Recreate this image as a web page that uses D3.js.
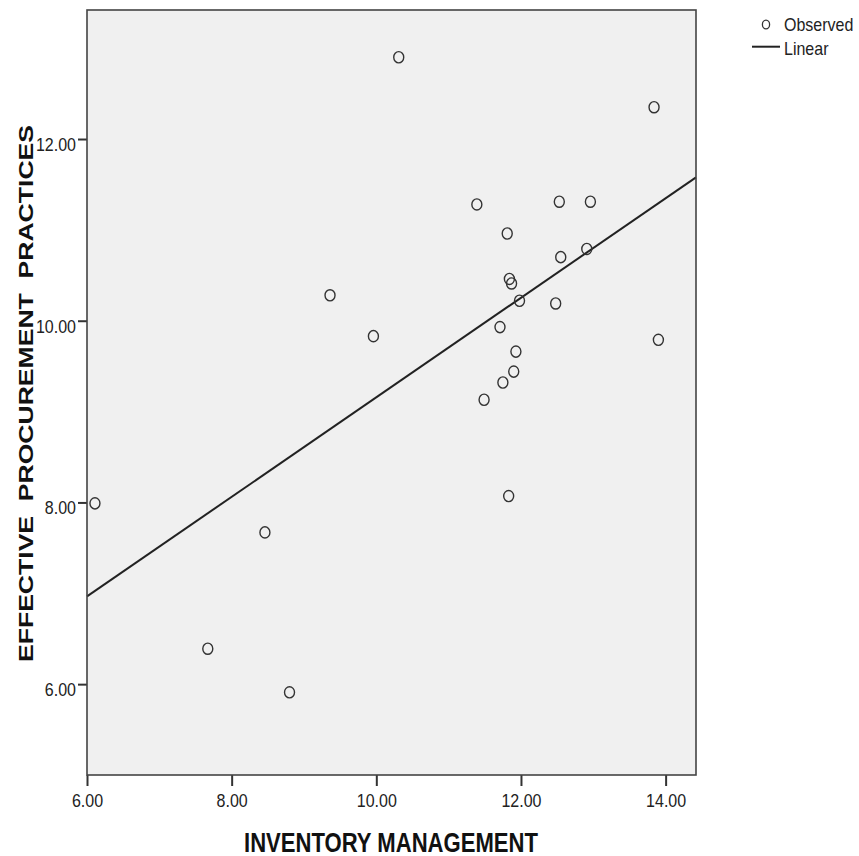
<!DOCTYPE html>
<html>
<head>
<meta charset="utf-8">
<script src="https://cdn.jsdelivr.net/npm/d3@7"></script>
<style>
  html, body { margin: 0; padding: 0; background: #fff; }
  text { font-family: "Liberation Sans", Arial, sans-serif; }
</style>
</head>
<body>
<div id="chart"></div>
<script>
const inventory   = [10.31, 13.84, 11.39, 12.53, 12.96, 11.81, 12.55, 12.91, 11.84, 11.87, 11.98, 12.48, 9.36,
                     9.96, 11.71, 13.90, 11.93, 11.90, 11.75, 11.49, 11.83, 6.11, 8.46, 7.67, 8.80];
const procurement = [12.90, 12.35, 11.28, 11.31, 11.31, 10.96, 10.70, 10.79, 10.46, 10.41, 10.22, 10.19, 10.28,
                     9.83, 9.93, 9.79, 9.66, 9.44, 9.32, 9.13, 8.07, 7.99, 7.67, 6.39, 5.91];

// linear fit as shown
const fitIntercept = 3.68;
const fitSlope = 0.5477;

const xTicks = [6, 8, 10, 12, 14];
const yTicks = [6, 8, 10, 12];
const xDomain = [6.0, 14.42];
const yDomain = [5.0, 13.42];

const legendLabels = ["Observed", "Linear"];

const W = 859, H = 856;
let m = {left: 87, right: 163, top: 10, bottom: 81};
let width = W - m.left - m.right,
    height = H - m.top - m.bottom;

let svg = d3.select("#chart").append("svg")
    .attr("width", W)
    .attr("height", H);

let vis = svg.append("g")
    .attr("transform", "translate(" + m.left + "," + m.top + ")");

let x = d3.scaleLinear().domain(xDomain).range([0, width]);
let y = d3.scaleLinear().domain(yDomain).range([height, 0]);

svg.append("clipPath").attr("id", "plotclip")
  .append("rect").attr("width", width).attr("height", height)
    .attr("transform", "translate(" + m.left + "," + m.top + ")");

vis.append("rect")
    .attr("width", width)
    .attr("height", height)
    .attr("fill", "#f0f0f0");

let pts = inventory.map((v, i) => ({x: v, y: procurement[i]}));

// fit line
let fit = d3.line().x(d => x(d)).y(d => y(fitIntercept + fitSlope * d));
vis.append("path")
    .datum(xDomain)
    .attr("d", fit)
    .attr("fill", "none")
    .attr("stroke", "#222")
    .attr("stroke-width", 2);

vis.selectAll(".obs").data(pts).enter().append("ellipse")
    .attr("class", "obs")
    .attr("cx", d => x(d.x))
    .attr("cy", d => y(d.y))
    .attr("rx", 5)
    .attr("ry", 5.6)
    .attr("fill", "none")
    .attr("stroke", "#333")
    .attr("stroke-width", 1.4);

// axes
let xAxis = vis.append("g")
    .attr("transform", "translate(0," + height + ")")
    .call(d3.axisBottom(x).tickValues(xTicks).tickFormat(d3.format(".2f"))
        .tickSize(11).tickSizeOuter(0).tickPadding(8));
xAxis.select(".domain").remove();
xAxis.selectAll("line").attr("stroke", "#333").attr("stroke-width", 2);
xAxis.selectAll("text")
    .attr("font-size", 18)
    .attr("fill", "#222")
    .attr("transform", "scale(0.89,1)");

let yAxis = vis.append("g")
    .call(d3.axisLeft(y).tickValues(yTicks).tickFormat(d3.format(".2f"))
        .tickSize(9).tickSizeOuter(0).tickPadding(3.4));
yAxis.select(".domain").remove();
yAxis.selectAll("line").attr("stroke", "#333").attr("stroke-width", 2);
yAxis.selectAll("text")
    .attr("font-size", 18)
    .attr("fill", "#222")
    .attr("dy", "0.64em")
    .attr("transform", "scale(0.89,1)");

// frame
vis.append("rect")
    .attr("width", width)
    .attr("height", height)
    .attr("fill", "none")
    .attr("stroke", "#444")
    .attr("stroke-width", 1.6);

// axis titles
svg.append("text")
    .attr("x", 391)
    .attr("y", 851.5)
    .attr("text-anchor", "middle")
    .attr("font-size", 27)
    .attr("font-weight", "bold")
    .attr("fill", "#111")
    .attr("textLength", 294)
    .attr("lengthAdjust", "spacingAndGlyphs")
    .text("INVENTORY MANAGEMENT");

svg.append("text")
    .attr("transform", "translate(33,393.5) rotate(-90)")
    .attr("text-anchor", "middle")
    .attr("font-size", 21)
    .attr("font-weight", "bold")
    .attr("fill", "#111")
    .style("white-space", "pre")
    .attr("textLength", 537)
    .attr("lengthAdjust", "spacingAndGlyphs")
    .text("EFFECTIVE  PROCUREMENT  PRACTICES");

// legend
let legend = svg.append("g").attr("transform", "translate(752,0)");

legend.append("ellipse")
    .attr("cx", 14).attr("cy", 24.5)
    .attr("rx", 3.6).attr("ry", 4.4)
    .attr("fill", "none")
    .attr("stroke", "#333")
    .attr("stroke-width", 1.3);

legend.append("line")
    .attr("x1", 0).attr("x2", 28)
    .attr("y1", 46.7).attr("y2", 46.7)
    .attr("stroke", "#222")
    .attr("stroke-width", 2);

legend.selectAll(".legend").data(legendLabels).enter().append("text")
    .attr("class", "legend")
    .attr("transform", (d, i) => "translate(32," + (31 + i * 24) + ") scale(0.89,1)")
    .attr("font-size", 18)
    .attr("fill", "#222")
    .text(d => d);
</script>
</body>
</html>
